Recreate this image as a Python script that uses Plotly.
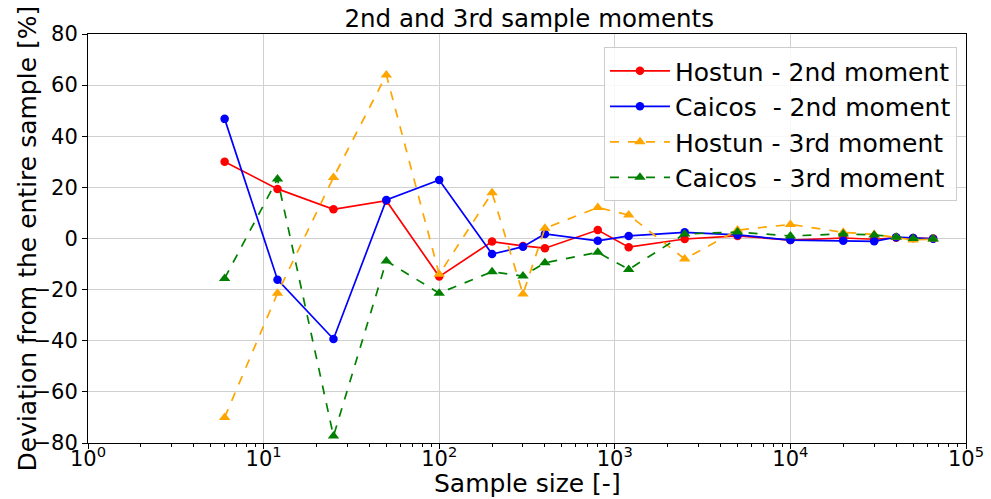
import plotly.graph_objects as go

sample_size = [6, 12, 25, 50, 100, 200, 300, 400, 800, 1200, 2500, 5000, 10000, 20000, 30000, 40000, 50000, 65000]

hostun_2nd = [30, 19.4, 11.4, 14.8, -14.9, -1.2, -2.9, -3.8, 3.3, -3.4, -0.2, 1.0, -0.6, 0.2, -0.3, 0.3, 0.2, 0.0]
caicos_2nd = [46.8, -16.1, -39.3, 15.1, 22.9, -6.1, -3.2, 1.8, -0.9, 1.0, 2.4, 1.4, -0.6, -0.9, -1.1, 0.5, 0.2, -0.1]
hostun_3rd = [-70, -21.4, 23.9, 64, -14, 17.9, -21.7, 4.0, 12.1, 9.2, -8.0, 3.3, 5.5, 2.4, 1.6, 0.5, -0.6, -0.2]
caicos_3rd = [-15.6, 23.3, -77.3, -8.8, -21.4, -13, -14.7, -9.5, -5.4, -12.1, 1.8, 2.5, 1.0, 1.8, 1.4, 0.5, 0.0, -0.2]

x_tickvals = [1, 10, 100, 1000, 10000, 100000]
x_ticktext = ["10<sup>0</sup>", "10<sup>1</sup>", "10<sup>2</sup>", "10<sup>3</sup>", "10<sup>4</sup>", "10<sup>5</sup>"]
y_tickvals = [-80, -60, -40, -20, 0, 20, 40, 60, 80]

series = [
    ("Hostun - 2nd moment", hostun_2nd, "red", "solid", "circle", 8.5),
    ("Caicos\u00a0 - 2nd moment", caicos_2nd, "blue", "solid", "circle", 8.5),
    ("Hostun - 3rd moment", hostun_3rd, "orange", "dash", "triangle-up", 10),
    ("Caicos\u00a0 - 3rd moment", caicos_3rd, "green", "dash", "triangle-up", 10),
]

fig = go.Figure()
for name, vals, color, dash, sym, msize in series:
    fig.add_trace(go.Scatter(
        x=sample_size, y=vals, name=name, mode="lines+markers",
        line=dict(color=color, width=1.7, dash=dash),
        marker=dict(color=color, size=msize, symbol=sym),
    ))

font_family = "DejaVu Sans"
W, H = 991, 499
fig.update_layout(
    width=W, height=H,
    margin=dict(l=88, r=25, t=34, b=56),
    plot_bgcolor="white", paper_bgcolor="white",
    font=dict(family=font_family, size=20, color="black"),
    title=dict(text="2nd and 3rd sample moments", x=0.534, xanchor="center",
               y=1 - 18 / H, yref="container", yanchor="middle",
               font=dict(size=24.5, family=font_family)),
    showlegend=True,
    legend=dict(x=0.9897, y=0.968, xanchor="right", yanchor="top",
                bgcolor="rgba(255,255,255,0.85)", bordercolor="#cccccc", borderwidth=1,
                font=dict(size=25, family=font_family), itemwidth=60,
                tracegroupgap=0),
    annotations=[
        dict(text="Sample size [-]", xref="paper", yref="paper",
             x=0.5, y=-(483 - 443) / (H - 34 - 56), xanchor="center", yanchor="middle",
             showarrow=False, font=dict(size=25)),
        dict(text="Deviation from the entire sample [%]", xref="paper", yref="paper",
             x=-(88 - 27) / (W - 88 - 25), y=0.5, xanchor="center", yanchor="middle",
             textangle=-90, showarrow=False, font=dict(size=25)),
    ],
)
fig.update_xaxes(
    type="log", range=[0, 5], tickvals=x_tickvals, ticktext=x_ticktext,
    showgrid=True, gridcolor="#d0d0d0", gridwidth=1,
    showline=True, linecolor="black", linewidth=1, mirror=True,
    ticks="outside", ticklen=5, tickcolor="black",
    minor=dict(ticks="outside", ticklen=3, tickcolor="black", showgrid=False, dtick="D1"),
    tickfont=dict(size=21), ticklabelstandoff=-8,
    zeroline=False, automargin=False,
)
fig.update_yaxes(
    range=[-80, 80], tickvals=y_tickvals,
    showgrid=True, gridcolor="#d0d0d0", gridwidth=1,
    showline=True, linecolor="black", linewidth=1, mirror=True,
    ticks="outside", ticklen=5, tickcolor="black",
    tickfont=dict(size=21),
    zeroline=False, automargin=False,
)

fig.write_html("out.html")
